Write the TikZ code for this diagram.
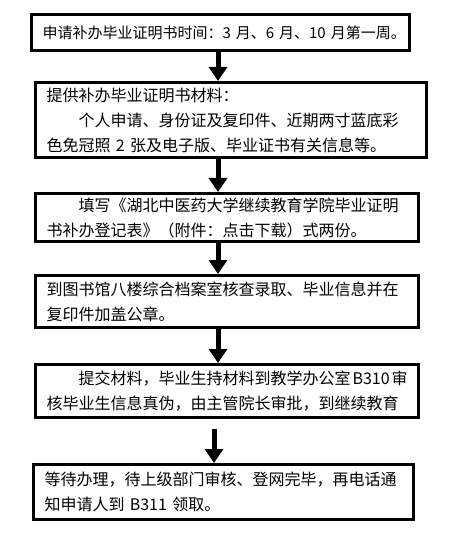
\documentclass[tikz,border=0pt]{standalone}
\usepackage{fontspec}
\newfontfamily\cjk{Noto Sans CJK SC}
\usetikzlibrary{arrows.meta}

\begin{document}
\begin{tikzpicture}[x=1pt, y=-1pt,
    stepbox/.style={draw, line width=3pt, anchor=north west, inner xsep=11pt, inner ysep=0pt,
        align=left, font=\cjk\fontsize{16}{25}\selectfont},
    flow/.style={line width=5pt, -{Triangle[width=18pt,length=14pt]}}]
    \useasboundingbox (0,0) rectangle (474,537);
    \node[stepbox, minimum width=377.5pt, text width=355.5pt, minimum height=36pt,
        font=\cjk\fontsize{15}{25}\selectfont] (s1) at (30,13)
        {申请补办毕业证明书时间：3~月、6~月、10~月第一周。};
    \node[stepbox, minimum width=391pt, text width=369pt, minimum height=75pt] (s2) at (34,81)
        {提供补办毕业证明书材料：\\\hspace*{2em}个人申请、身份证及复印件、近期两寸蓝底彩\\色免冠照~2~张及电子版、毕业证书有关信息等。};
    \node[stepbox, minimum width=382.5pt, text width=360.5pt, minimum height=48pt] (s3) at (34,192)
        {\hspace*{2em}填写《湖北中医药大学继续教育学院毕业证明\\书补办登记表》（附件：点击下载）式两份。};
    \node[stepbox, minimum width=382.5pt, text width=360.5pt, minimum height=52pt] (s4) at (34,274)
        {到图书馆八楼综合档案室核查录取、毕业信息并在\\复印件加盖公章。};
    \node[stepbox, minimum width=382.5pt, text width=360.5pt, minimum height=52.5pt] (s5) at (34,363)
        {\hspace*{2em}提交材料，毕业生持材料到教学办公室\nobreak\hspace{2pt}B310\nobreak\hspace{2pt}审\\核毕业生信息真伪，由主管院长审批，到继续教育};
    \node[stepbox, minimum width=380pt, text width=358pt, minimum height=55pt] (s6) at (32,463)
        {等待办理，待上级部门审核、登网完毕，再电话通\\知申请人到~B311~领取。};
    \coordinate (ax) at (218,0);
    \coordinate (bx) at (214,0);
    \draw[flow] (ax |- s1.south) -- (ax |- s2.north);
    \draw[flow] (ax |- s2.south) -- (ax |- s3.north);
    \draw[flow] (ax |- s3.south) -- (ax |- s4.north);
    \draw[flow] (ax |- s4.south) -- (ax |- s5.north);
    \draw[flow] ([yshift=-10pt]bx |- s5.south) -- (bx |- s6.north);
\end{tikzpicture}
\end{document}
